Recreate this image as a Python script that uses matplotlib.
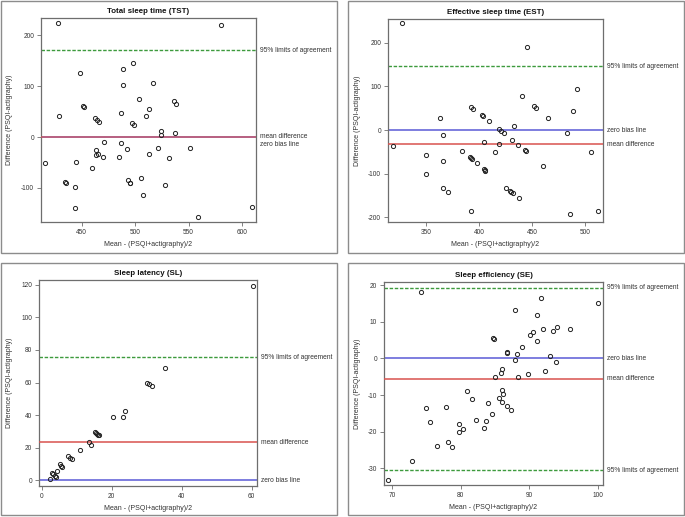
import matplotlib
matplotlib.use("Agg")
import matplotlib.pyplot as plt
from matplotlib.patches import Rectangle

plt.rcParams['font.family'] = ['Liberation Sans', 'DejaVu Sans']
plt.rcParams['axes.unicode_minus'] = False

# ---------------- data ----------------
tst_x = [428, 580, 498, 489, 448, 517, 489, 504, 451, 452, 536, 538.5, 512.6, 429, 487, 510,
         462.5, 464, 466, 497, 499, 524.5, 524, 537, 471, 487, 463.7, 465.5, 463.7, 470,
         492.5, 521, 551, 485, 513, 531.6, 416, 445, 460, 505.8, 493, 495, 495.5, 434.7,
         435, 444, 527.6, 507, 444, 609, 559]
tst_y = [224.8, 220, 145.8, 133, 125, 107, 103, 74, 60.5, 58.5, 70, 65, 55, 42, 47, 41.8,
         37, 33, 29, 27, 23, 12.5, 3.3, 7, -10.5, -11, -25.7, -33.5, -35.5, -38.8,
         -23, -21, -21, -39.5, -34, -41.4, -51, -50, -60.5, -80, -83.5, -89.5, -91, -88,
         -89.5, -98, -94, -113, -139, -137.5, -158]
tst_upper, tst_mean = 171, 0.5

est_x = [327.7, 445, 363, 392.3, 394.5, 402.7, 403.6, 409, 440.6, 451.9, 453.4, 464.7, 488,
         492.3, 418.7, 420.8, 423.4, 433, 365.7, 482.6, 404.2, 430.6, 418.3, 436.8, 318.7,
         384.2, 414.9, 443, 443.7, 505.5, 350.3, 365.7, 391, 392.3, 393.6, 397.6, 404.2,
         405.2, 405.8, 460.3, 350, 365.7, 370.7, 425.2, 428.7, 429.6, 432.1, 437.8, 392.3,
         485.4, 512]
est_y = [244.6, 190.8, 28.5, 53.8, 49.2, 33.8, 31.5, 20.8, 77.7, 54.6, 51.5, 28.5, 43,
         94.6, 2.3, -2.3, -6.9, 9.2, -11.5, -6.1, -27.6, -22.2, -33, -33.7, -36,
         -47.5, -50.6, -46, -47.5, -51.3, -58.2, -71.3, -61.3, -64.4, -66.7, -76.6, -88.9,
         -91.2, -93.5, -81.2, -99.6, -131.8, -141, -131.8, -138.7, -141, -144, -155.6, -185.4,
         -192.3, -185.4]
est_upper, est_mean = 146, -32.2

sl_x = [60.3, 35.1, 30.1, 30.7, 31.4, 23.3, 23.8, 20.5, 15.2, 15.5, 15.8, 16.1, 16.4, 13.5,
        14.0, 10.9, 7.6, 8.2, 8.6, 5.2, 5.5, 5.8, 4.4, 2.9, 3.2, 3.7, 4.0, 2.5]
sl_y = [119, 69.2, 60, 59, 57.6, 38.9, 42.6, 38.9, 29.5, 29.0, 28.5, 28.0, 27.6, 23.6,
        21.9, 18.4, 14.8, 13.9, 13.1, 9.8, 9.0, 8.4, 5.9, 4.7, 3.9, 2.7, 2.0, 1.0]
sl_upper, sl_mean = 75.5, 23.4

se_x = [74.2, 91.8, 100.1, 88, 91.1, 84.7, 84.9, 86.7, 86.8, 89, 88.3, 90.2, 90.6, 91.2,
        92.1, 93.5, 94.1, 96, 93.1, 94, 87.9, 92.3, 89.8, 86.1, 85.9, 85, 88.4,
        81, 86, 86.2, 81.6, 85.6, 86, 84, 86.7, 87.3, 84.6, 75, 77.8, 75.5, 82.2, 83.7,
        79.7, 79.7, 80.4, 83.4, 78.1, 76.6, 78.8, 72.9, 69.4]
se_y = [18.2, 16.4, 15.2, 13.2, 11.8, 5.6, 5.2, 1.7, 1.5, 3.2, 1.3, 6.4, 7.1, 4.7,
        8, 7.5, 8.7, 8.1, 0.6, -1.1, -0.5, -3.3, -4.3, -2.9, -4, -5, -5.2,
        -8.9, -8.7, -9.8, -11.1, -10.9, -11.9, -12.2, -13, -14.2, -15.2, -13.5, -13.4, -17.4,
        -16.8, -17.1, -17.9, -20, -19.4, -19.1, -22.8, -23.9, -24.2, -28, -33.2]
se_upper, se_mean, se_lower = 19.3, -5.6, -30.5

# ---------------- styling ----------------
W, H = 685, 517
GREEN = '#3d9a3d'
RED = '#d9534f'
BLUE = '#5b5bd6'
SPINE = '#6e6e6e'
TXT = '#333333'

fig = plt.figure(figsize=(W / 100, H / 100), dpi=100)


def px_axes(l, r, t, b):
    return fig.add_axes([l / W, 1 - b / H, (r - l) / W, (b - t) / H])


def border(l, r, t, b):
    fig.patches.append(Rectangle((l / W, 1 - b / H), (r - l) / W, (b - t) / H,
                                 transform=fig.transFigure, fill=False,
                                 edgecolor='#8c8c8c', lw=1.0))


def lab(ax, text, y, dy=0):
    ax.annotate(text, xy=(1, y), xycoords=('axes fraction', 'data'),
                xytext=(3, dy), textcoords='offset points', va='center', ha='left',
                fontsize=4.75, color=TXT, annotation_clip=False)


def panel(ax, title, x, y, xlim, ylim, xticks, yticks, ylab_x):
    ax.plot(x, y, 'o', mfc='none', mec='#222222', ms=3.0, mew=0.7, zorder=5)
    ax.set_xlim(*xlim)
    ax.set_ylim(*ylim)
    ax.set_xticks(xticks)
    ax.set_yticks(yticks)
    ax.set_title(title, fontsize=5.7, fontweight='bold', pad=3.5, color='#111111')
    ax.set_xlabel('Mean - (PSQI+actigraphy)/2', fontsize=5, color=TXT, labelpad=4)
    ax.set_ylabel('Difference (PSQI-actigraphy)', fontsize=5, color=TXT)
    ax.yaxis.set_label_coords(ylab_x, 0.5)
    ax.tick_params(labelsize=4.7, length=3, width=0.6, color=SPINE, labelcolor=TXT, pad=2)
    for s in ax.spines.values():
        s.set_color(SPINE)
        s.set_linewidth(0.9)


def hl(ax, y, kind, alpha=0.85):
    if kind == 'limit':
        ax.axhline(y, color=GREEN, lw=1.0, ls=(0, (2.5, 1.2)), zorder=2)
    elif kind == 'mean':
        ax.axhline(y, color=RED, lw=1.3, zorder=3, alpha=alpha)
    else:
        ax.axhline(y, color=BLUE, lw=1.3, zorder=2, alpha=0.85)


# panel borders
border(1, 337, 1, 253)
border(348, 684, 1, 253)
border(1, 337, 263, 515)
border(348, 684, 263, 515)

# Total sleep time
ax1 = px_axes(41, 256, 18, 222)
panel(ax1, 'Total sleep time (TST)', tst_x, tst_y, (412, 613), (-167, 234),
      [450, 500, 550, 600], [-100, 0, 100, 200], -0.13)
hl(ax1, tst_upper, 'limit')
hl(ax1, 0, 'zero')
hl(ax1, tst_mean, 'mean', alpha=0.7)
lab(ax1, '95% limits of agreement', tst_upper)
lab(ax1, 'mean difference', tst_mean)
lab(ax1, 'zero bias line', 0, -5.3)

# Effective sleep time
ax2 = px_axes(388, 603, 19, 222)
panel(ax2, 'Effective sleep time (EST)', est_x, est_y, (314.3, 516.5), (-210.7, 254.6),
      [350, 400, 450, 500], [-200, -100, 0, 100, 200], -0.126)
hl(ax2, est_upper, 'limit')
hl(ax2, 0, 'zero')
hl(ax2, est_mean, 'mean')
lab(ax2, '95% limits of agreement', est_upper)
lab(ax2, 'zero bias line', 0)
lab(ax2, 'mean difference', est_mean)

# Sleep latency
ax3 = px_axes(39, 257, 280, 486)
panel(ax3, 'Sleep latency (SL)', sl_x, sl_y, (-0.76, 61.5), (-3.5, 122.9),
      [0, 20, 40, 60], [0, 20, 40, 60, 80, 100, 120], -0.119)
hl(ax3, sl_upper, 'limit')
hl(ax3, 0, 'zero')
hl(ax3, sl_mean, 'mean')
lab(ax3, '95% limits of agreement', sl_upper)
lab(ax3, 'mean difference', sl_mean)
lab(ax3, 'zero bias line', 0)

# Sleep efficiency
ax4 = px_axes(384, 603, 282, 485)
panel(ax4, 'Sleep efficiency (SE)', se_x, se_y, (68.8, 100.8), (-34.6, 20.9),
      [70, 80, 90, 100], [-30, -20, -10, 0, 10, 20], -0.105)
hl(ax4, se_upper, 'limit')
hl(ax4, se_lower, 'limit')
hl(ax4, 0, 'zero')
hl(ax4, se_mean, 'mean')
lab(ax4, '95% limits of agreement', se_upper)
lab(ax4, 'zero bias line', 0)
lab(ax4, 'mean difference', se_mean)
lab(ax4, '95% limits of agreement', se_lower)

fig.savefig('out.png', dpi=100, facecolor='white')
